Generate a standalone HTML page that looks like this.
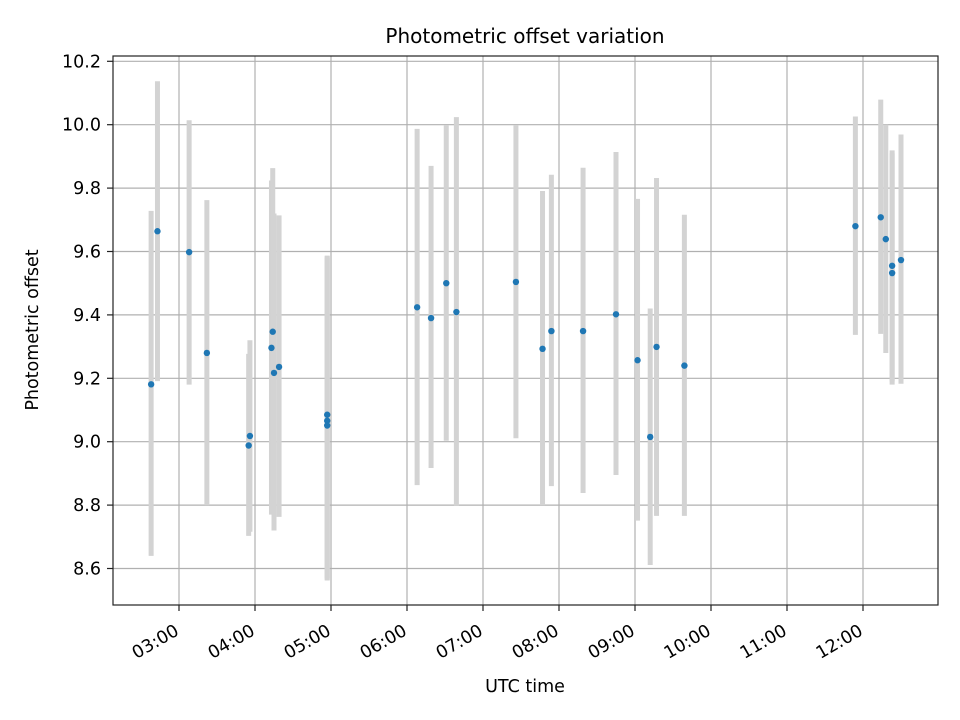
<!DOCTYPE html>
<html><head><meta charset="utf-8"><style>
body{margin:0;background:#fff}
svg{display:block;font-family:"DejaVu Sans","Liberation Sans",sans-serif}
</style></head><body>
<svg id="chart" width="960" height="720" viewBox="0 0 960 720">
<rect width="960" height="720" fill="#fff"/>
<text x="525" y="43" font-size="20" text-anchor="middle" fill="#000">Photometric offset variation</text>
<g id="grid"></g>
<g id="bars"></g>
<g id="pts"></g>
<rect x="113" y="56" width="825" height="549" fill="none" stroke="#222" stroke-width="1.2"/>
<g id="axes"></g>
<text x="525" y="692" font-size="17.5" text-anchor="middle">UTC time</text>
<text transform="translate(38,330) rotate(-90)" font-size="17.5" text-anchor="middle">Photometric offset</text>
</svg>
<script>
const times=["02:38","02:43","03:08","03:22","03:55","03:56","04:13","04:14","04:15","04:19","04:57","04:57","04:57","06:08","06:19","06:31","06:39","07:26","07:47","07:54","08:19","08:45","09:02","09:12","09:17","09:39","11:54","12:14","12:18","12:23","12:23","12:30"];
const values=[9.181,9.664,9.598,9.28,8.988,9.018,9.296,9.347,9.217,9.236,9.085,9.066,9.051,9.424,9.39,9.50,9.409,9.504,9.293,9.349,9.349,9.402,9.257,9.015,9.299,9.24,9.68,9.708,9.639,9.555,9.532,9.573];
const lows=[8.64,9.191,9.18,8.80,8.703,8.716,8.77,8.83,8.72,8.763,8.562,8.57,8.565,8.863,8.917,9.003,8.799,9.011,8.80,8.86,8.838,8.895,8.751,8.611,8.766,8.766,9.337,9.34,9.28,9.18,9.19,9.183];
const highs=[9.728,10.137,10.014,9.762,9.277,9.32,9.824,9.863,9.72,9.714,9.587,9.58,9.585,9.987,9.870,9.998,10.024,9.998,9.791,9.842,9.864,9.914,9.766,9.42,9.832,9.716,10.026,10.079,10.0,9.919,9.91,9.969];
const xTickLabels=["03:00","04:00","05:00","06:00","07:00","08:00","09:00","10:00","11:00","12:00"];
const yTickLabels=["8.6","8.8","9.0","9.2","9.4","9.6","9.8","10.0","10.2"];
const NS="http://www.w3.org/2000/svg";
function mins(s){const p=s.split(":");return +p[0]*60+ +p[1];}
function xs(m){return 179+(m-180)*76/60;}
function ys(v){return 61.3+(10.2-v)*317;}
function mk(tag,attrs,parent){const e=document.createElementNS(NS,tag);for(const k in attrs)e.setAttribute(k,attrs[k]);document.getElementById(parent).appendChild(e);return e;}
xTickLabels.forEach(l=>{const x=xs(mins(l));
 const g=mk("line",{x1:x,x2:x,y1:56,y2:605,stroke:"#b0b0b0","stroke-width":1.2},"grid");
 
 
 const t=mk("line",{x1:x,x2:x,y1:605,y2:611,stroke:"#222","stroke-width":1.2},"axes");
 
 
 const tx=mk("text",{transform:`translate(${x+1},${634}) rotate(-30)`,"font-size":17.5,"text-anchor":"end"},"axes");
 tx.textContent=l;
 
 
});
yTickLabels.forEach(l=>{const y=ys(+l);
 const g=mk("line",{x1:113,x2:938,y1:y,y2:y,stroke:"#b0b0b0","stroke-width":1.2},"grid");
 
 
 const t=mk("line",{x1:107,x2:113,y1:y,y2:y,stroke:"#222","stroke-width":1.2},"axes");
 
 
 const tx=mk("text",{x:101,y:y+6,"font-size":17.5,"text-anchor":"end"},"axes");
 tx.textContent=l;
 
 
});
times.forEach((s,i)=>{const x=xs(mins(s));
 const b=mk("line",{x1:x,x2:x,y1:ys(lows[i]),y2:ys(highs[i]),stroke:"#d3d3d3","stroke-width":5},"bars");
 
 
});
times.forEach((s,i)=>{const x=xs(mins(s));
 const c=mk("circle",{cx:x,cy:ys(values[i]),r:3.2,fill:"#1f77b4"},"pts");
 
 
});
</script>
</body></html>
